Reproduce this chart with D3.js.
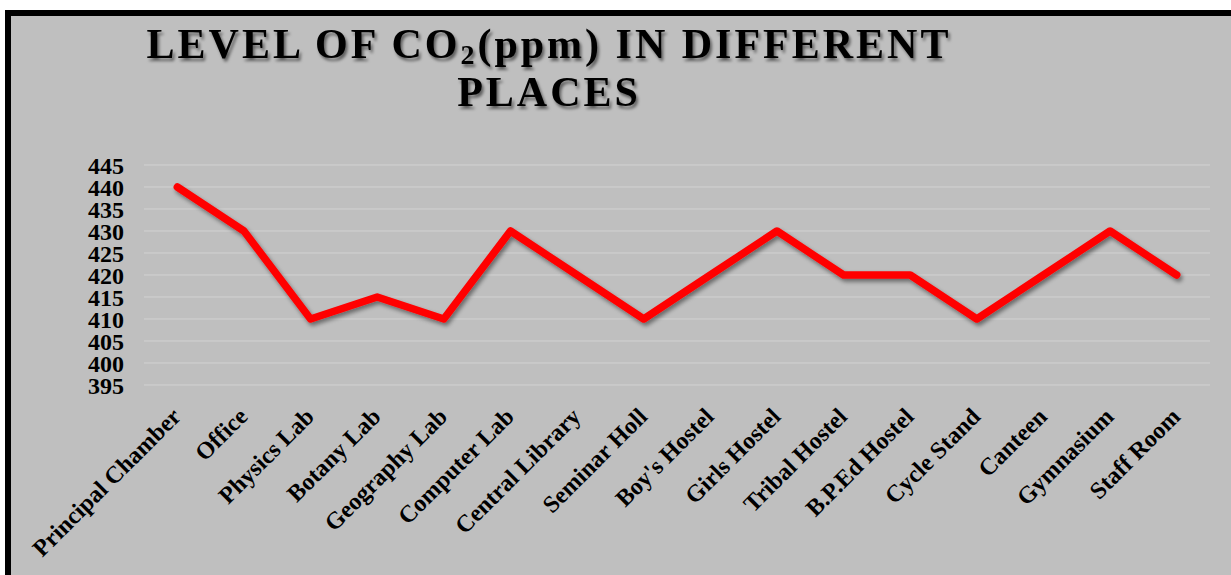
<!DOCTYPE html>
<html>
<head>
<meta charset="utf-8">
<script src="https://cdn.jsdelivr.net/npm/d3@7.9.0/dist/d3.min.js"></script>
<style>
  body { margin: 0; background: #fff; }
  svg { display: block; }
  text { font-family: "Liberation Serif", "Times New Roman", serif; font-weight: bold; }
</style>
</head>
<body>
<svg id="chart" width="1231" height="575"></svg>
<script>
// data
const places = ['Principal Chamber', 'Office', 'Physics Lab', 'Botany Lab', 'Geography Lab', 'Computer Lab',
  'Central Library', 'Seminar Holl', "Boy's Hostel", 'Girls Hostel', 'Tribal Hostel', 'B.P.Ed Hostel',
  'Cycle Stand', 'Canteen', 'Gymnasium', 'Staff Room'];
const co2 = [440, 430, 410, 415, 410, 430, 420, 410, 420, 430, 420, 420, 410, 420, 430, 420];
const yTicks = [395, 400, 405, 410, 415, 420, 425, 430, 435, 440, 445];

const svg = d3.select('#chart');

const defs = svg.append('defs');
const shadow = defs.append('filter').attr('id', 'shadow')
  .attr('x', '-10%').attr('y', '-10%').attr('width', '120%').attr('height', '130%');
shadow.append('feDropShadow').attr('dx', 2).attr('dy', 3).attr('stdDeviation', 2)
  .attr('flood-color', '#000').attr('flood-opacity', 0.45);

const tshadow = defs.append('filter').attr('id', 'tshadow')
  .attr('x', '-5%').attr('y', '-20%').attr('width', '110%').attr('height', '150%');
tshadow.append('feDropShadow').attr('dx', 2).attr('dy', 3).attr('stdDeviation', 1.8)
  .attr('flood-color', '#000').attr('flood-opacity', 0.5);

// chart frame (cut off at right and bottom)
svg.append('rect')
  .attr('x', 8).attr('y', 13).attr('width', 1240).attr('height', 600)
  .attr('fill', '#bfbfbf').attr('stroke', '#000').attr('stroke-width', 6);

const x = d3.scaleBand().domain(places).range([144, 1210]);
const y = d3.scaleLinear().domain([395, 445]).range([385, 165]);

// gridlines
svg.append('g')
  .selectAll('line').data(yTicks).join('line')
  .attr('x1', 144).attr('x2', 1210)
  .attr('y1', d => y(d)).attr('y2', d => y(d))
  .attr('stroke', '#d2d2d2').attr('stroke-width', 1);

// y axis
const yAxis = svg.append('g')
  .attr('transform', 'translate(124,0)')
  .call(d3.axisLeft(y).tickValues(yTicks).tickSize(0).tickPadding(0));
yAxis.select('.domain').remove();
yAxis.selectAll('text')
  .attr('font-size', 24).attr('fill', '#000')
  .attr('dy', '0.34em')
  .style('font-family', '"Liberation Serif", "Times New Roman", serif').style('font-weight', 'bold');

// x axis labels, rotated 45 degrees
const xAxis = svg.append('g')
  .attr('transform', 'translate(0,392)')
  .call(d3.axisBottom(x).tickSize(0).tickPadding(0));
xAxis.select('.domain').remove();
xAxis.selectAll('text')
  .attr('font-size', 24).attr('fill', '#000')
  .attr('text-anchor', 'end')
  .attr('y', 0).attr('dy', 0)
  .attr('transform', 'translate(5,26) rotate(-45)')
  .style('font-family', '"Liberation Serif", "Times New Roman", serif').style('font-weight', 'bold');

// line
const line = d3.line()
  .x((d, i) => x(places[i]) + x.bandwidth() / 2)
  .y(d => y(d));

svg.append('path')
  .datum(co2)
  .attr('d', line)
  .attr('fill', 'none')
  .attr('stroke', '#ff0000')
  .attr('stroke-width', 7.5)
  .attr('stroke-linejoin', 'round')
  .attr('stroke-linecap', 'round')
  .attr('filter', 'url(#shadow)');

// title
const title = svg.append('text')
  .attr('x', 549).attr('y', 58)
  .attr('text-anchor', 'middle')
  .attr('font-size', 42)
  .attr('letter-spacing', 3)
  .attr('filter', 'url(#tshadow)');
title.append('tspan').text('LEVEL OF CO');
title.append('tspan').text('2').attr('font-size', 28).attr('dy', 6);
title.append('tspan').text('(ppm) IN DIFFERENT').attr('dy', -6);

svg.append('text')
  .attr('x', 549).attr('y', 106)
  .attr('text-anchor', 'middle')
  .attr('font-size', 42)
  .attr('letter-spacing', 3)
  .attr('filter', 'url(#tshadow)')
  .text('PLACES');
</script>
</body>
</html>
